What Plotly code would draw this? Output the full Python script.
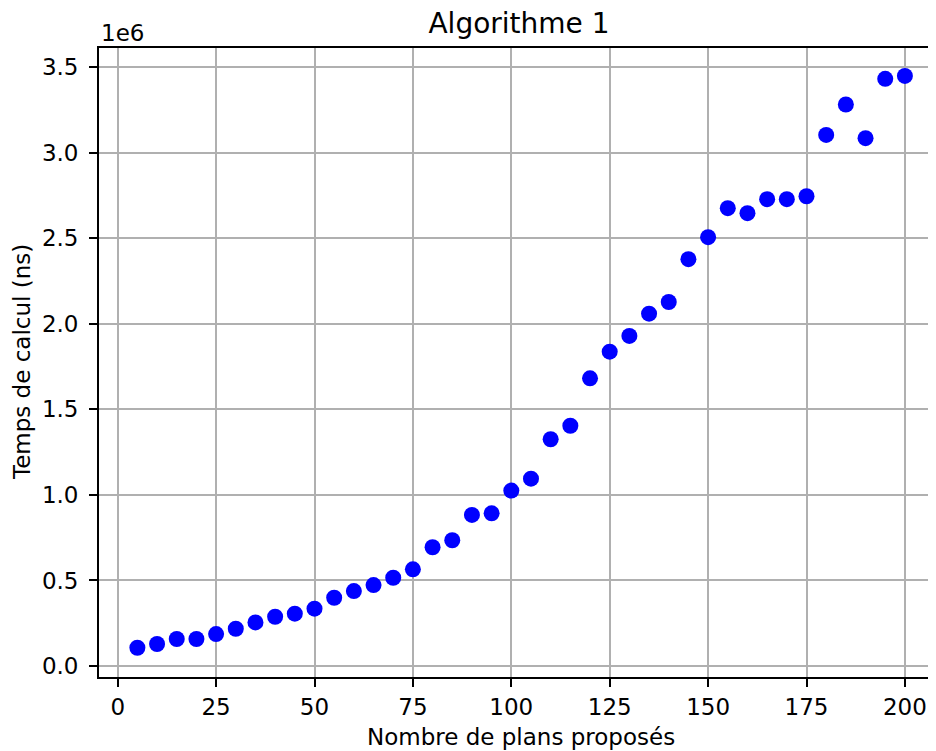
import plotly.graph_objects as go

# Number of proposed plans (x) and measured compute time in ns (y)
nb_plans = [5, 10, 15, 20, 25, 30, 35, 40, 45, 50,
            55, 60, 65, 70, 75, 80, 85, 90, 95, 100,
            105, 110, 115, 120, 125, 130, 135, 140, 145, 150,
            155, 160, 165, 170, 175, 180, 185, 190, 195, 200]
temps_ns = [107000, 129000, 158000, 158000, 187000, 218000, 255000, 288000, 306000, 335000,
            399000, 438000, 473000, 516000, 565000, 694000, 735000, 883000, 892000, 1025000,
            1095000, 1325000, 1404000, 1681000, 1837000, 1929000, 2059000, 2127000, 2377000, 2506000,
            2675000, 2646000, 2728000, 2728000, 2745000, 3103000, 3281000, 3084000, 3431000, 3448000]

x_ticks = [0, 25, 50, 75, 100, 125, 150, 175, 200]
y_ticks = [0, 500000, 1000000, 1500000, 2000000, 2500000, 3000000, 3500000]
y_tick_labels = ["0.0", "0.5", "1.0", "1.5", "2.0", "2.5", "3.0", "3.5"]

FONT = "DejaVu Sans"
TXT = 23

# the page body has an 8px margin, so the figure is a bit smaller than the window
W, H = 928, 743
L, T, B = 91, 40, 74

fig = go.Figure()
fig.add_trace(go.Scatter(
    x=nb_plans, y=temps_ns, mode="markers",
    marker=dict(color="#0000ff", size=16, line=dict(width=0)),
    showlegend=False,
))

axis_common = dict(
    automargin=False,
    showgrid=True, gridcolor="#b0b0b0", gridwidth=1.6,
    zeroline=False,
    showline=True, linecolor="black", linewidth=1.8,
    ticks="outside", ticklen=8, tickwidth=1.8, tickcolor="black",
    tickfont=dict(family=FONT, size=TXT, color="black"),
)

fig.update_layout(
    width=W, height=H,
    margin=dict(l=L, r=0, t=T, b=B),
    plot_bgcolor="white", paper_bgcolor="white",
    font=dict(family=FONT, color="black"),
    title=dict(text="Algorithme 1", x=511 / W, xanchor="center",
               y=1 - 15 / H, yanchor="middle",
               font=dict(family=FONT, size=28, color="black")),
    xaxis=dict(range=[-4.75, 207.9], tickvals=x_ticks, mirror=True, **axis_common),
    yaxis=dict(range=[-64000, 3611000], tickvals=y_ticks, ticktext=y_tick_labels,
               ticklabelstandoff=6, **axis_common),
    annotations=[
        dict(text="1e6", xref="paper", yref="paper", x=0, y=1,
             xanchor="left", yanchor="bottom", yshift=0, showarrow=False,
             font=dict(family=FONT, size=TXT, color="black")),
        dict(text="Nombre de plans proposés", xref="paper", yref="paper",
             x=(512.8 - L) / (W - L), y=0, xanchor="center", yanchor="top",
             yshift=-45, showarrow=False,
             font=dict(family=FONT, size=TXT, color="black")),
        dict(text="Temps de calcul (ns)", xref="paper", yref="paper",
             x=0, y=0.5, xanchor="center", yanchor="middle", xshift=-77.5,
             textangle=-90, showarrow=False,
             font=dict(family=FONT, size=TXT, color="black")),
    ],
)

fig.write_html("out.html")
